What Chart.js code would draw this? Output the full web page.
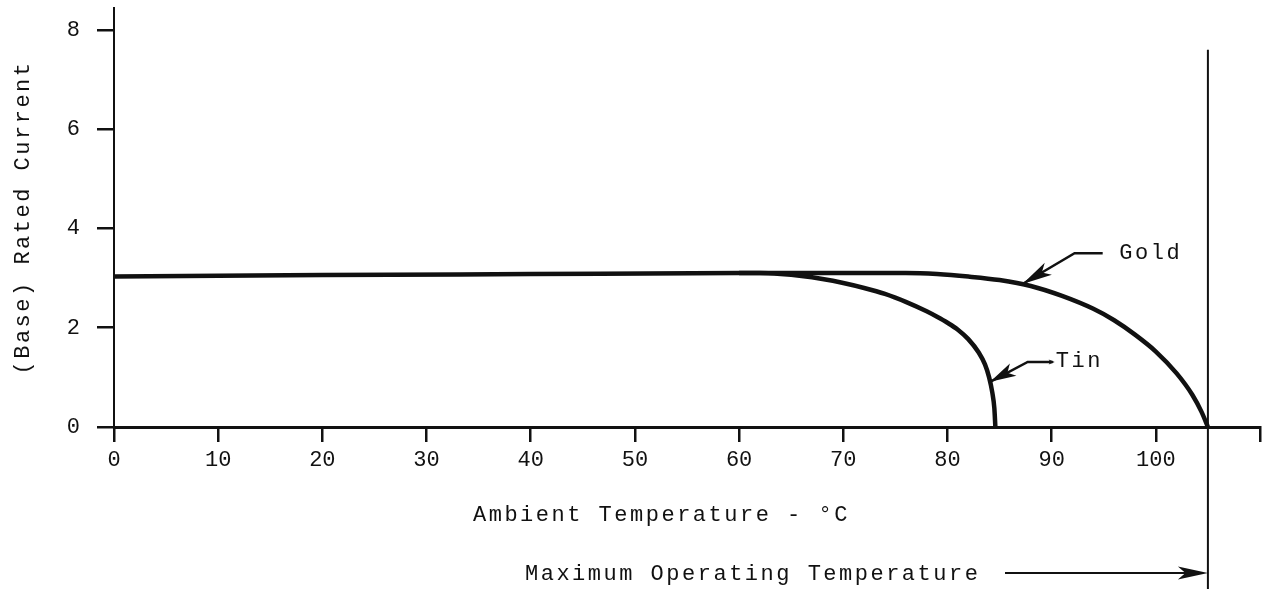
<!DOCTYPE html>
<html>
<head>
<meta charset="utf-8">
<script src="https://cdn.jsdelivr.net/npm/chart.js@4"></script>
<style>
  html, body { margin: 0; padding: 0; background: #fff; }
  #wrap { width: 1269px; height: 589px; position: relative; }
</style>
</head>
<body>
<div id="wrap"><canvas id="derating"></canvas></div>
<script>
// values
const goldTemp = [0, 20, 40, 60, 76, 79, 82, 85, 88, 91, 94, 96, 98, 100, 102, 103.5, 104.4, 105];
const goldCurrent = [3.03, 3.06, 3.08, 3.10, 3.10, 3.08, 3.03, 2.96, 2.84, 2.64, 2.38, 2.15, 1.86, 1.52, 1.08, 0.65, 0.30, 0];
const tinTemp = [60, 62, 64, 66, 68, 70, 72, 74, 76, 78, 79, 80, 81, 82, 83, 83.6, 84, 84.3, 84.5, 84.6];
const tinCurrent = [3.10, 3.10, 3.08, 3.04, 2.98, 2.90, 2.80, 2.68, 2.52, 2.33, 2.22, 2.10, 1.96, 1.77, 1.50, 1.26, 1.00, 0.70, 0.38, 0];

const xTicks = [0, 10, 20, 30, 40, 50, 60, 70, 80, 90, 100, 110];
const xTickLabels = ['0', '10', '20', '30', '40', '50', '60', '70', '80', '90', '100', ''];
const yTicks = [0, 2, 4, 6, 8];
const maxOperatingTemp = 105;

const FONT = 'Liberation Mono';
const INK = '#111';

function toPoints(xs, ys) {
    return xs.map((x, i) => ({ x: x, y: ys[i] }));
}

function arrowHead(ctx, fromX, fromY, toX, toY, len, half) {
    const a = Math.atan2(toY - fromY, toX - fromX);
    const bx = toX - len * Math.cos(a), by = toY - len * Math.sin(a);
    const nx = -Math.sin(a) * half, ny = Math.cos(a) * half;
    ctx.beginPath();
    ctx.moveTo(toX, toY);
    ctx.lineTo(bx + nx, by + ny);
    ctx.lineTo(toX - len * 0.75 * Math.cos(a), toY - len * 0.75 * Math.sin(a));
    ctx.lineTo(bx - nx, by - ny);
    ctx.closePath();
    ctx.fill();
}

// typewriter spacing for the y title, normal spacing for tick labels (drawn later, z = 1)
const spacing = {
    id: 'spacing',
    beforeDraw(chart) { chart.ctx.letterSpacing = '2.5px'; },
    beforeDatasetsDraw(chart) { chart.ctx.letterSpacing = '0px'; }
};

const notes = {
    id: 'notes',
    afterDraw(chart) {
        const ctx = chart.ctx;
        const xs = chart.scales.x, ys = chart.scales.y;
        const px = v => xs.getPixelForValue(v);
        const py = v => ys.getPixelForValue(v);
        ctx.save();
        ctx.strokeStyle = INK;
        ctx.fillStyle = INK;
        ctx.font = '22px "' + FONT + '"';
        ctx.letterSpacing = '2.5px';
        ctx.textBaseline = 'middle';

        // x axis title, sits a little left of centre in the original
        ctx.fillText('Ambient Temperature - °C', 473, 515);

        // maximum operating temperature marker
        const mx = px(maxOperatingTemp);
        ctx.lineWidth = 2;
        ctx.beginPath();
        ctx.moveTo(mx, py(7.6));
        ctx.lineTo(mx, chart.height);
        ctx.stroke();

        ctx.fillText('Maximum Operating Temperature', 525, 574);
        ctx.beginPath();
        ctx.moveTo(1005, 573);
        ctx.lineTo(mx - 10, 573);
        ctx.stroke();
        arrowHead(ctx, 1005, 573, mx, 573, 30, 6.5);

        // Gold
        const g = { tip: [px(87.2), py(2.88)], elbow: [px(92.2), py(3.5)], end: [px(94.9), py(3.5)] };
        ctx.lineWidth = 2.5;
        ctx.beginPath();
        ctx.moveTo(g.end[0], g.end[1]);
        ctx.lineTo(g.elbow[0], g.elbow[1]);
        ctx.lineTo(g.tip[0], g.tip[1]);
        ctx.stroke();
        arrowHead(ctx, g.elbow[0], g.elbow[1], g.tip[0], g.tip[1], 30, 7);
        ctx.fillText('Gold', px(96.5), py(3.5));

        // Tin
        const t = { tip: [px(84.1), py(0.91)], elbow: [px(87.7), py(1.31)], end: [px(90.1), py(1.31)] };
        ctx.beginPath();
        ctx.moveTo(t.end[0], t.end[1]);
        ctx.lineTo(t.elbow[0], t.elbow[1]);
        ctx.lineTo(t.tip[0], t.tip[1]);
        ctx.stroke();
        arrowHead(ctx, t.elbow[0], t.elbow[1], t.tip[0], t.tip[1], 26, 7);
        arrowHead(ctx, t.elbow[0], t.elbow[1], t.end[0] + 2, t.end[1], 6, 2.5);
        ctx.fillText('Tin', px(90.4), py(1.33));
        ctx.restore();
    }
};

const ctx = document.getElementById('derating').getContext('2d');
const derating = new Chart(ctx, {
    type: 'line',
    data: {
        datasets: [{
            label: 'Gold',
            data: toPoints(goldTemp, goldCurrent),
            borderColor: INK,
            borderWidth: 4.5,
            pointRadius: 0,
            cubicInterpolationMode: 'monotone',
            fill: false
        }, {
            label: 'Tin',
            data: toPoints(tinTemp, tinCurrent),
            borderColor: INK,
            borderWidth: 4.5,
            pointRadius: 0,
            cubicInterpolationMode: 'monotone',
            fill: false
        }]
    },
    options: {
        responsive: true,
        maintainAspectRatio: false,
        animation: false,
        layout: { padding: { top: 8, right: 9, left: 0, bottom: 0 } },
        plugins: {
            legend: { display: false },
            tooltip: { enabled: false }
        },
        scales: {
            x: {
                type: 'linear',
                min: 0,
                max: 110,
                afterBuildTicks: (s) => { s.ticks = xTicks.map(v => ({ value: v })); },
                afterFit: (s) => { s.height = 162; s.paddingLeft = 0; s.paddingRight = 0; },
                ticks: {
                    z: 1,
                    autoSkip: false,
                    maxRotation: 0,
                    padding: 5,
                    color: INK,
                    font: { family: FONT, size: 22 },
                    callback: (v) => xTickLabels[xTicks.indexOf(v)]
                },
                grid: {
                    drawOnChartArea: false,
                    drawTicks: true,
                    tickLength: 15,
                    color: INK,
                    lineWidth: 2.5
                },
                border: { display: true, color: INK, width: 3 }
            },
            y: {
                min: 0,
                max: 8.44,
                afterBuildTicks: (s) => { s.ticks = yTicks.map(v => ({ value: v })); },
                afterFit: (s) => { s.width = 114; s.paddingTop = 0; s.paddingBottom = 0; },
                ticks: {
                    z: 1,
                    padding: 17,
                    color: INK,
                    font: { family: FONT, size: 22 }
                },
                grid: {
                    drawOnChartArea: false,
                    drawTicks: true,
                    tickLength: 17,
                    color: INK,
                    lineWidth: 2.5
                },
                border: { display: true, color: INK, width: 2 },
                title: {
                    display: true,
                    text: '(Base) Rated Current',
                    color: INK,
                    font: { family: FONT, size: 22 },
                    padding: { top: 10, bottom: 0 }
                }
            }
        }
    },
    plugins: [spacing, notes]
});
</script>
</body>
</html>
